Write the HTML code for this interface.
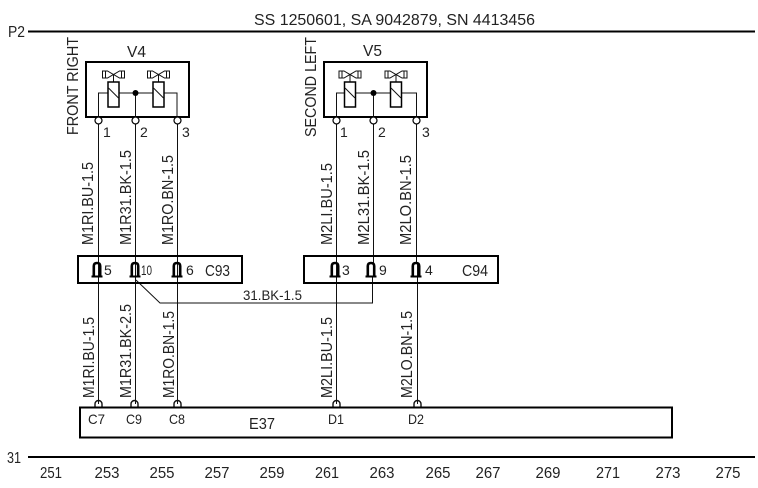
<!DOCTYPE html>
<html>
<head>
<meta charset="utf-8">
<style>
html,body{margin:0;padding:0;background:#fff;width:758px;height:488px;overflow:hidden}
svg{display:block}
text{font-family:"Liberation Sans",sans-serif;font-size:15.5px;fill:#222}
.w{stroke:#111;stroke-width:1;fill:none}
.b{stroke:#000;stroke-width:2;fill:none}
.t{stroke:#000;stroke-width:1.2;fill:#fff}
.p{stroke:#000;stroke-width:2.6;fill:none}
</style>
</head>
<body>
<svg width="758" height="488" viewBox="0 0 758 488" xmlns="http://www.w3.org/2000/svg">
<defs>
<g id="valve">
<path d="M-11 -9H-6L0 -5.500L6 -9H11V-2H6L0 -5.500L-6 -2H-11Z" class="w"/>
<path d="M-8 -9V-2M8 -9V-2" class="w"/>
<path d="M0 -5.500V2" class="w"/>
<rect x="-5.500" y="2" width="11" height="25" style="stroke:#000;stroke-width:1.500;fill:#fff"/>
<path d="M-5 8L5 18" class="w"/>
</g>
<g id="pin">
<path d="M-3.200 7V-3Q-3.200 -6 0 -6T3.200 -3V7" class="p"/>
<path d="M-5.500 7.500H5.500" stroke="#000" stroke-width="2"/>
</g>
</defs>

<text x="254" y="25" style="font-size:16px" textLength="281" lengthAdjust="spacingAndGlyphs">SS 1250601, SA 9042879, SN 4413456</text>
<text x="8" y="37" style="font-size:16px" textLength="17" lengthAdjust="spacingAndGlyphs">P2</text>
<path d="M28 31.500H755" stroke="#000" stroke-width="2"/>
<text x="7" y="463" style="font-size:16px" textLength="14" lengthAdjust="spacingAndGlyphs">31</text>
<path d="M28 457H755" stroke="#000" stroke-width="2"/>

<g style="font-size:15.500px">
<text x="51" y="478" text-anchor="middle" textLength="22" lengthAdjust="spacingAndGlyphs" style="font-size:15.500px">251</text>
<text x="107" y="478" text-anchor="middle" textLength="25" lengthAdjust="spacingAndGlyphs">253</text>
<text x="162" y="478" text-anchor="middle" textLength="25" lengthAdjust="spacingAndGlyphs">255</text>
<text x="217" y="478" text-anchor="middle" textLength="25" lengthAdjust="spacingAndGlyphs">257</text>
<text x="272" y="478" text-anchor="middle" textLength="25" lengthAdjust="spacingAndGlyphs">259</text>
<text x="327" y="478" text-anchor="middle" textLength="24" lengthAdjust="spacingAndGlyphs">261</text>
<text x="382" y="478" text-anchor="middle" textLength="25" lengthAdjust="spacingAndGlyphs">263</text>
<text x="438" y="478" text-anchor="middle" textLength="25" lengthAdjust="spacingAndGlyphs">265</text>
<text x="488" y="478" text-anchor="middle" textLength="25" lengthAdjust="spacingAndGlyphs">267</text>
<text x="548" y="478" text-anchor="middle" textLength="25" lengthAdjust="spacingAndGlyphs">269</text>
<text x="608" y="478" text-anchor="middle" textLength="24" lengthAdjust="spacingAndGlyphs">271</text>
<text x="668" y="478" text-anchor="middle" textLength="25" lengthAdjust="spacingAndGlyphs">273</text>
<text x="728" y="478" text-anchor="middle" textLength="25" lengthAdjust="spacingAndGlyphs">275</text>
</g>

<!-- V4 -->
<text x="127" y="57" style="font-size:16px" textLength="19" lengthAdjust="spacingAndGlyphs">V4</text>
<rect x="86" y="62" width="103" height="55" class="b"/>
<path d="M98.500 117V93H108M119 93H153M164 93H177V117M135.500 93V117" class="w"/>
<use href="#valve" x="113.500" y="80"/>
<use href="#valve" x="158.500" y="80"/>
<circle cx="135.500" cy="93" r="3" fill="#000"/>
<!-- V5 -->
<text x="363" y="56" style="font-size:16px" textLength="19" lengthAdjust="spacingAndGlyphs">V5</text>
<rect x="324" y="62" width="103" height="55" class="b"/>
<path d="M336.500 117V93H344M356 93H390M401 93H416.500V117M373.500 93V117" class="w"/>
<use href="#valve" x="350" y="80"/>
<use href="#valve" x="396" y="80"/>
<circle cx="373.500" cy="93" r="3" fill="#000"/>

<text transform="translate(78,135) rotate(-90)" style="font-size:16px" textLength="98" lengthAdjust="spacingAndGlyphs">FRONT RIGHT</text>
<text transform="translate(316,137) rotate(-90)" style="font-size:16px" textLength="100" lengthAdjust="spacingAndGlyphs">SECOND LEFT</text>

<!-- wires -->
<path d="M98.500 124V404M135.500 124V404M177.500 124V404M336.500 124V404M373.500 124V264M416.500 124V262M417.500 262V404" class="w"/>
<path d="M372.500 277V303H160L136 280" class="w"/>

<!-- terminals -->
<g class="t">
<circle cx="98.500" cy="120.500" r="3.500"/><circle cx="135.500" cy="120.500" r="3.500"/><circle cx="177.500" cy="120.500" r="3.500"/>
<circle cx="336.500" cy="120.500" r="3.500"/><circle cx="373.500" cy="120.500" r="3.500"/><circle cx="416.500" cy="120.500" r="3.500"/>
</g>
<g>
<text x="103" y="137" style="font-size:14px">1</text><text x="140" y="137" style="font-size:14px">2</text><text x="182" y="137" style="font-size:14px">3</text>
<text x="340" y="137" style="font-size:14px">1</text><text x="378" y="137" style="font-size:14px">2</text><text x="422" y="137" style="font-size:14px">3</text>
</g>

<!-- labels -->
<g>
<text transform="translate(93,245) rotate(-90)" textLength="83" lengthAdjust="spacingAndGlyphs">M1RI.BU-1.5</text>
<text transform="translate(131,245) rotate(-90)" textLength="95" lengthAdjust="spacingAndGlyphs">M1R31.BK-1.5</text>
<text transform="translate(173,245) rotate(-90)" textLength="90" lengthAdjust="spacingAndGlyphs">M1RO.BN-1.5</text>
<text transform="translate(332,245) rotate(-90)" textLength="82" lengthAdjust="spacingAndGlyphs">M2LI.BU-1.5</text>
<text transform="translate(369,245) rotate(-90)" textLength="95" lengthAdjust="spacingAndGlyphs">M2L31.BK-1.5</text>
<text transform="translate(411,245) rotate(-90)" textLength="90" lengthAdjust="spacingAndGlyphs">M2LO.BN-1.5</text>
<text transform="translate(94,398) rotate(-90)" textLength="81" lengthAdjust="spacingAndGlyphs">M1RI.BU-1.5</text>
<text transform="translate(131,398) rotate(-90)" textLength="94" lengthAdjust="spacingAndGlyphs">M1R31.BK-2.5</text>
<text transform="translate(174,398) rotate(-90)" textLength="87" lengthAdjust="spacingAndGlyphs">M1RO.BN-1.5</text>
<text transform="translate(332,398) rotate(-90)" textLength="81" lengthAdjust="spacingAndGlyphs">M2LI.BU-1.5</text>
<text transform="translate(412,398) rotate(-90)" textLength="87" lengthAdjust="spacingAndGlyphs">M2LO.BN-1.5</text>
</g>

<!-- C93 / C94 -->
<rect x="78" y="256" width="164" height="27" class="b"/>
<rect x="304" y="256" width="194" height="27" class="b"/>
<use href="#pin" x="97" y="269"/>
<use href="#pin" x="135" y="269"/>
<use href="#pin" x="177" y="269"/>
<use href="#pin" x="335" y="269"/>
<use href="#pin" x="371" y="269"/>
<use href="#pin" x="416" y="269"/>
<g>
<text x="104" y="275" style="font-size:14px">5</text><text x="141" y="275" style="font-size:14px" textLength="11" lengthAdjust="spacingAndGlyphs">10</text><text x="186" y="275" style="font-size:14px">6</text>
<text x="342" y="275" style="font-size:14px">3</text><text x="379" y="275" style="font-size:14px">9</text><text x="425" y="275" style="font-size:14px">4</text>
</g>
<text x="205" y="276" style="font-size:16px" textLength="25" lengthAdjust="spacingAndGlyphs">C93</text>
<text x="462" y="276" style="font-size:16px" textLength="26" lengthAdjust="spacingAndGlyphs">C94</text>
<text x="243" y="300" style="font-size:14px" textLength="59" lengthAdjust="spacingAndGlyphs">31.BK-1.5</text>

<!-- E37 -->
<path d="M95 407V404A3.500 3.500 0 0 1 102 404V407M131 407V404A3.500 3.500 0 0 1 138 404V407M174 407V404A3.500 3.500 0 0 1 181 404V407M333 407V404A3.500 3.500 0 0 1 340 404V407M414 407V404A3.500 3.500 0 0 1 421 404V407" style="stroke:#111;stroke-width:1.400;fill:none"/>
<rect x="80" y="407.500" width="592" height="30" class="b"/>
<g>
<text x="88" y="424" style="font-size:14px" textLength="17" lengthAdjust="spacingAndGlyphs">C7</text>
<text x="126" y="424" style="font-size:14px" textLength="16" lengthAdjust="spacingAndGlyphs">C9</text>
<text x="169" y="424" style="font-size:14px" textLength="16" lengthAdjust="spacingAndGlyphs">C8</text>
<text x="328" y="424" style="font-size:14px" textLength="16" lengthAdjust="spacingAndGlyphs">D1</text>
<text x="408" y="424" style="font-size:14px" textLength="16" lengthAdjust="spacingAndGlyphs">D2</text>
</g>
<text x="249" y="429" style="font-size:16px" textLength="26" lengthAdjust="spacingAndGlyphs">E37</text>
</svg>
</body>
</html>
